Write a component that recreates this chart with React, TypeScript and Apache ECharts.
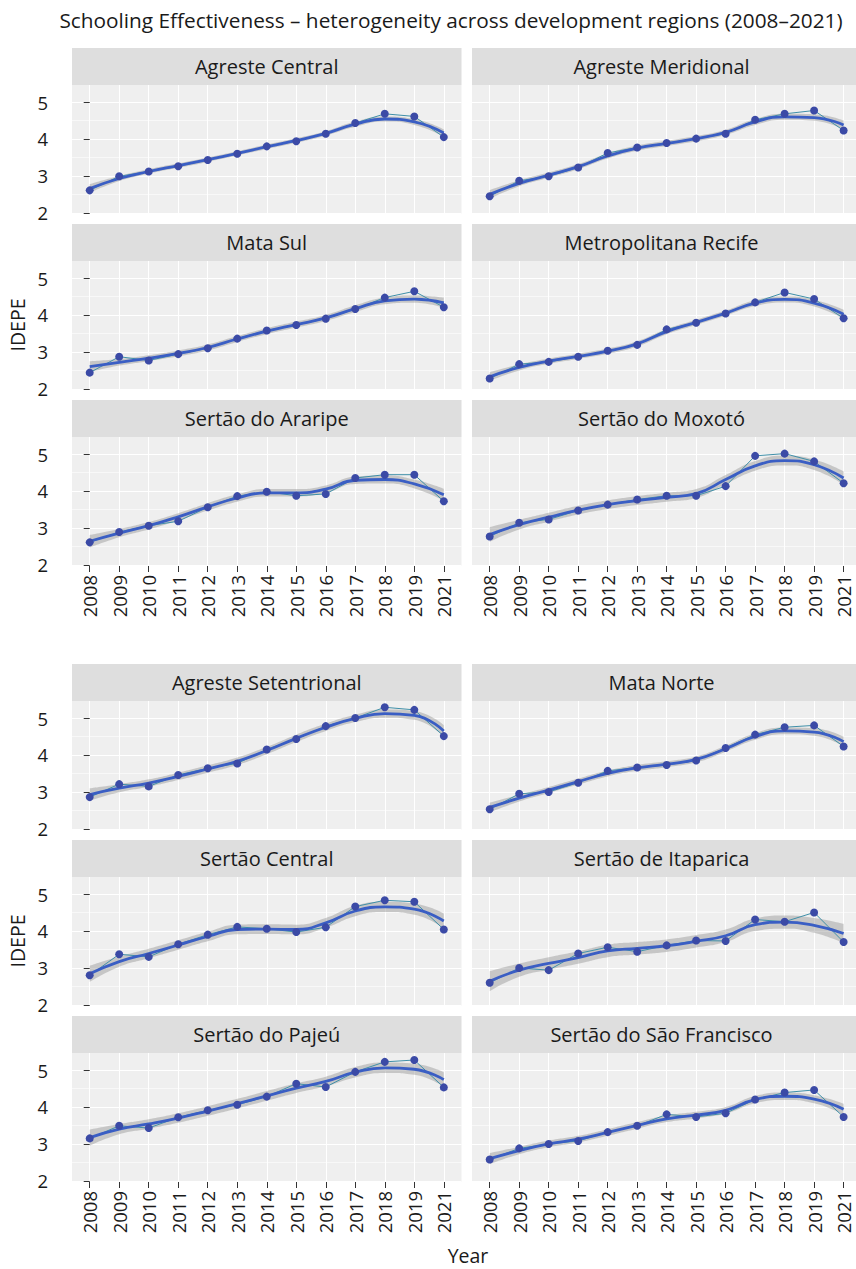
import React, { useEffect, useRef } from "react";
import * as echarts from "echarts";

const years = ["2008", "2009", "2010", "2011", "2012", "2013", "2014", "2015", "2016", "2017", "2018", "2019", "2021"];
const yTicks = [2, 3, 4, 5];
const yMinorTicks = [2.5, 3.5, 4.5];
const titleText = "Schooling Effectiveness – heterogeneity across development regions (2008–2021)";

const regions = [
  "Agreste Central", "Agreste Meridional", "Mata Sul", "Metropolitana Recife",
  "Sertão do Araripe", "Sertão do Moxotó", "Agreste Setentrional", "Mata Norte",
  "Sertão Central", "Sertão de Itaparica", "Sertão do Pajeú", "Sertão do São Francisco",
];

// observed IDEPE
const obsAgresteCentral = [2.61, 2.99, 3.12, 3.26, 3.43, 3.60, 3.80, 3.94, 4.14, 4.43, 4.68, 4.61, 4.05];
const obsAgresteMeridional = [2.45, 2.87, 2.99, 3.23, 3.62, 3.77, 3.89, 4.01, 4.14, 4.52, 4.68, 4.77, 4.23];
const obsMataSul = [2.44, 2.87, 2.77, 2.94, 3.10, 3.36, 3.58, 3.73, 3.90, 4.16, 4.47, 4.64, 4.21];
const obsRecife = [2.28, 2.67, 2.73, 2.87, 3.03, 3.19, 3.61, 3.79, 4.04, 4.34, 4.61, 4.43, 3.91];
const obsAraripe = [2.61, 2.89, 3.06, 3.18, 3.56, 3.86, 3.98, 3.87, 3.92, 4.35, 4.44, 4.44, 3.72];
const obsMoxoto = [2.77, 3.14, 3.23, 3.47, 3.63, 3.77, 3.87, 3.87, 4.13, 4.95, 5.01, 4.80, 4.21];
const obsSetentrional = [2.86, 3.21, 3.15, 3.46, 3.64, 3.77, 4.15, 4.43, 4.78, 5.00, 5.29, 5.22, 4.51];
const obsMataNorte = [2.53, 2.95, 3.00, 3.25, 3.57, 3.66, 3.73, 3.85, 4.19, 4.55, 4.75, 4.80, 4.23];
const obsSertaoCentral = [2.80, 3.37, 3.30, 3.64, 3.90, 4.11, 4.06, 3.97, 4.10, 4.66, 4.83, 4.79, 4.04];
const obsItaparica = [2.60, 3.00, 2.94, 3.39, 3.56, 3.44, 3.61, 3.74, 3.73, 4.31, 4.25, 4.50, 3.70];
const obsPajeu = [3.15, 3.49, 3.43, 3.72, 3.91, 4.06, 4.28, 4.63, 4.54, 4.95, 5.22, 5.27, 4.53];
const obsSaoFrancisco = [2.58, 2.88, 3.00, 3.08, 3.32, 3.49, 3.80, 3.73, 3.83, 4.20, 4.39, 4.46, 3.73];

// smoothed fit
const fitAgresteCentral = [2.66, 2.93, 3.12, 3.28, 3.44, 3.61, 3.79, 3.96, 4.15, 4.40, 4.54, 4.46, 4.16];
const fitAgresteMeridional = [2.50, 2.80, 3.02, 3.25, 3.54, 3.75, 3.88, 4.01, 4.18, 4.46, 4.60, 4.58, 4.38];
const fitMataSul = [2.60, 2.72, 2.83, 2.96, 3.12, 3.35, 3.56, 3.74, 3.92, 4.17, 4.38, 4.43, 4.33];
const fitRecife = [2.33, 2.58, 2.75, 2.88, 3.02, 3.22, 3.55, 3.80, 4.05, 4.32, 4.42, 4.32, 4.02];
const fitAraripe = [2.64, 2.86, 3.06, 3.30, 3.57, 3.81, 3.95, 3.95, 4.05, 4.29, 4.31, 4.19, 3.90];
const fitMoxoto = [2.82, 3.09, 3.29, 3.48, 3.63, 3.74, 3.83, 3.93, 4.31, 4.68, 4.82, 4.71, 4.35];
const fitSetentrional = [2.93, 3.10, 3.24, 3.42, 3.62, 3.83, 4.12, 4.45, 4.75, 4.99, 5.12, 5.07, 4.65];
const fitMataNorte = [2.58, 2.83, 3.05, 3.28, 3.50, 3.65, 3.75, 3.88, 4.17, 4.50, 4.65, 4.62, 4.36];
const fitSertaoCentral = [2.84, 3.17, 3.39, 3.62, 3.85, 4.04, 4.05, 4.04, 4.22, 4.54, 4.65, 4.59, 4.27];
const fitItaparica = [2.64, 2.94, 3.12, 3.28, 3.46, 3.53, 3.60, 3.72, 3.87, 4.17, 4.24, 4.15, 3.93];
const fitPajeu = [3.17, 3.40, 3.54, 3.70, 3.89, 4.09, 4.30, 4.51, 4.69, 4.94, 5.06, 5.02, 4.74];
const fitSaoFrancisco = [2.60, 2.82, 3.00, 3.13, 3.31, 3.50, 3.68, 3.78, 3.91, 4.20, 4.29, 4.21, 3.94];

// confidence band half-width
const seAgresteCentral = [0.12, 0.07, 0.06, 0.06, 0.06, 0.06, 0.06, 0.06, 0.06, 0.07, 0.07, 0.08, 0.10];
const seAgresteMeridional = [0.12, 0.08, 0.07, 0.07, 0.07, 0.07, 0.07, 0.07, 0.07, 0.08, 0.08, 0.09, 0.12];
const seMataSul = [0.15, 0.09, 0.08, 0.08, 0.08, 0.08, 0.08, 0.08, 0.08, 0.09, 0.09, 0.10, 0.14];
const seRecife = [0.12, 0.08, 0.07, 0.07, 0.07, 0.07, 0.07, 0.07, 0.07, 0.08, 0.08, 0.09, 0.12];
const seAraripe = [0.17, 0.11, 0.10, 0.10, 0.10, 0.10, 0.10, 0.10, 0.10, 0.10, 0.11, 0.12, 0.16];
const seMoxoto = [0.20, 0.13, 0.12, 0.12, 0.12, 0.12, 0.12, 0.12, 0.12, 0.13, 0.13, 0.14, 0.18];
const seSetentrional = [0.17, 0.11, 0.10, 0.10, 0.10, 0.10, 0.10, 0.10, 0.10, 0.10, 0.11, 0.12, 0.16];
const seMataNorte = [0.13, 0.09, 0.08, 0.08, 0.08, 0.08, 0.08, 0.08, 0.08, 0.09, 0.09, 0.10, 0.13];
const seSertaoCentral = [0.22, 0.14, 0.13, 0.13, 0.13, 0.13, 0.13, 0.13, 0.13, 0.14, 0.14, 0.15, 0.20];
const seItaparica = [0.27, 0.18, 0.17, 0.17, 0.17, 0.17, 0.17, 0.17, 0.17, 0.17, 0.18, 0.20, 0.26];
const sePajeu = [0.22, 0.14, 0.13, 0.13, 0.13, 0.13, 0.13, 0.13, 0.13, 0.14, 0.14, 0.15, 0.20];
const seSaoFrancisco = [0.15, 0.10, 0.09, 0.09, 0.09, 0.09, 0.09, 0.09, 0.09, 0.10, 0.10, 0.11, 0.15];

const observed = [obsAgresteCentral, obsAgresteMeridional, obsMataSul, obsRecife, obsAraripe, obsMoxoto,
  obsSetentrional, obsMataNorte, obsSertaoCentral, obsItaparica, obsPajeu, obsSaoFrancisco];
const fitted = [fitAgresteCentral, fitAgresteMeridional, fitMataSul, fitRecife, fitAraripe, fitMoxoto,
  fitSetentrional, fitMataNorte, fitSertaoCentral, fitItaparica, fitPajeu, fitSaoFrancisco];
const bandHalf = [seAgresteCentral, seAgresteMeridional, seMataSul, seRecife, seAraripe, seMoxoto,
  seSetentrional, seMataNorte, seSertaoCentral, seItaparica, sePajeu, seSaoFrancisco];

const FONT = '"Open Sans", "Noto Sans", sans-serif';
const PANEL_BG = "#EFEFEF";
const STRIP_BG = "#DEDEDE";
const BAND = "rgba(150,150,150,0.46)";
const SMOOTH = "#3A5EC4";
const POINT = "#3B4AA6";
const THIN = "#3F8FA8";
const TEXT = "#1a1a1a";

const COLS = [
  { left: 72, width: 389.5, xMax: 12.6 },
  { left: 472, width: 384, xMax: 12.42 },
];
const ROW_TOPS = [85, 261, 437, 701, 877, 1053];
const PANEL_H = 129;
const STRIP_H = 37;
const Y_MIN = 1.97;
const Y_MAX = 5.46;

function buildOption() {
  const grid: any[] = [];
  const xAxis: any[] = [];
  const yAxis: any[] = [];
  const series: any[] = [];
  const graphic: any[] = [];
  const idx = years.map((_, k) => k);

  regions.forEach((name, i) => {
    const row = Math.floor(i / 2);
    const col = i % 2;
    const c = COLS[col];
    const top = ROW_TOPS[row];
    const showX = row === 2 || row === 5;
    const showY = col === 0;

    grid.push({
      left: c.left, top, width: c.width, height: PANEL_H,
      show: true, backgroundColor: PANEL_BG, borderWidth: 0,
      outerBoundsMode: "none",
    });

    xAxis.push({
      type: "value", gridIndex: i, min: -0.6, max: c.xMax,
      axisLine: { show: false },
      axisTick: { show: showX, customValues: idx, length: 6, lineStyle: { color: "#333", width: 1 } },
      axisLabel: {
        show: showX, customValues: idx, rotate: 90, margin: 9,
        formatter: (v: number) => years[Math.round(v)] ?? "",
        fontSize: 18.5, color: TEXT, fontFamily: FONT,
      },
      splitLine: { show: true, lineStyle: { color: "#FFFFFF", width: 1.1 } },
    });

    yAxis.push({
      type: "value", gridIndex: i, min: Y_MIN, max: Y_MAX, position: "left",
      axisLine: { show: false },
      axisTick: { show: showY, customValues: yTicks, length: 6, lineStyle: { color: "#333", width: 1 } },
      axisLabel: {
        show: showY, customValues: yTicks, margin: 24,
        fontSize: 18.5, color: TEXT, fontFamily: FONT,
      },
      splitLine: { show: true, lineStyle: { color: "#FFFFFF", width: 1.1 } },
    });
    yAxis.push({
      type: "value", gridIndex: i, min: Y_MIN, max: Y_MAX, position: "right",
      axisLine: { show: false },
      axisTick: { show: false, customValues: yMinorTicks },
      axisLabel: { show: false, customValues: yMinorTicks },
      splitLine: { show: true, lineStyle: { color: "#FFFFFF", width: 0.55 } },
    });

    const obs = observed[i];
    const fit = fitted[i];
    const se = bandHalf[i];
    // [value, index] so that the stack applies to the value (y) dimension
    const lower = fit.map((v, k) => [+(v - se[k]).toFixed(3), k]);
    const width = se.map((v, k) => [+(2 * v).toFixed(3), k]);
    const yIdx = 2 * i;

    series.push({
      type: "line", xAxisIndex: i, yAxisIndex: yIdx, data: lower, encode: { x: 1, y: 0 },
      stack: "band" + i, smooth: true, symbol: "none", lineStyle: { opacity: 0 }, silent: true, z: 2,
    });
    series.push({
      type: "line", xAxisIndex: i, yAxisIndex: yIdx, data: width, encode: { x: 1, y: 0 },
      stack: "band" + i, smooth: true, symbol: "none", lineStyle: { opacity: 0 },
      areaStyle: { color: BAND, opacity: 1 }, silent: true, z: 2,
    });
    series.push({
      type: "line", xAxisIndex: i, yAxisIndex: yIdx, data: obs.map((v, k) => [k, v]),
      symbol: "none", lineStyle: { color: THIN, width: 1 }, silent: true, z: 3,
    });
    series.push({
      type: "line", xAxisIndex: i, yAxisIndex: yIdx, data: fit.map((v, k) => [k, v]),
      smooth: true, symbol: "none", lineStyle: { color: SMOOTH, width: 2.8 }, silent: true, z: 4,
    });
    series.push({
      type: "scatter", xAxisIndex: i, yAxisIndex: yIdx, data: obs.map((v, k) => [k, v]),
      symbolSize: 8, itemStyle: { color: POINT, opacity: 1 }, silent: true, z: 5,
    });

    graphic.push({
      type: "rect", silent: true, z: -1,
      shape: { x: c.left, y: top - STRIP_H, width: c.width, height: STRIP_H },
      style: { fill: STRIP_BG },
    });
    graphic.push({
      type: "text", silent: true,
      x: c.left + c.width / 2 - (col === 1 ? 2.5 : 0), y: top - STRIP_H / 2,
      style: { text: name, fontSize: 20, fontFamily: FONT, fill: TEXT, align: "center", verticalAlign: "middle" },
    });
  });

  graphic.push({
    type: "text", silent: true, x: 451, y: 20,
    style: { text: titleText, fontSize: 20.8, fontFamily: FONT, fill: TEXT, align: "center", verticalAlign: "middle" },
  });
  [325, 941].forEach((cy) => {
    graphic.push({
      type: "text", silent: true, x: 17, y: cy, rotation: Math.PI / 2,
      style: { text: "IDEPE", fontSize: 19.5, fontFamily: FONT, fill: TEXT, align: "center", verticalAlign: "middle" },
    });
  });
  graphic.push({
    type: "text", silent: true, x: 468, y: 1255,
    style: { text: "Year", fontSize: 19.5, fontFamily: FONT, fill: TEXT, align: "center", verticalAlign: "middle" },
  });

  return {
    animation: false,
    backgroundColor: "#FFFFFF",
    grid, xAxis, yAxis, series, graphic,
  };
}

export default function App() {
  const ref = useRef<HTMLDivElement>(null);
  useEffect(() => {
    if (!ref.current) return;
    const chart = echarts.init(ref.current, null, { renderer: "svg" });
    chart.setOption(buildOption() as any);
    return () => chart.dispose();
  }, []);
  return (
    <div
      ref={ref}
      style={{ position: "absolute", left: 0, top: 0, width: 856, height: 1269 }}
    />
  );
}
